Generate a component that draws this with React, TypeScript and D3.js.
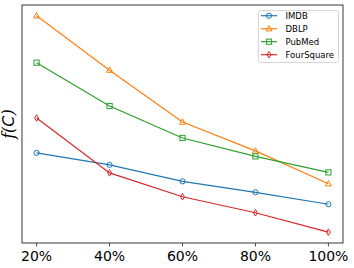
import React from "react";
import * as d3 from "d3";

const categories = ["20%", "40%", "60%", "80%", "100%"];
const seriesNames = ["IMDB", "DBLP", "PubMed", "FourSquare"];
const imdb = [0.90, 0.78, 0.615, 0.505, 0.385];
const dblp = [2.275, 1.73, 1.21, 0.92, 0.59];
const pubmed = [1.805, 1.37, 1.05, 0.865, 0.705];
const foursquare = [1.25, 0.70, 0.46, 0.30, 0.105];
const colors = ["#1f77b4", "#ff7f0e", "#2ca02c", "#d62728"];
const markers = ["circle", "triangle", "square", "diamond"];

const W = 354, H = 268;
const L = 22, R = 343, T = 5, B = 243;

function Marker({ type, x, y, color }: { type: string; x: number; y: number; color: string }) {
  const common = { fill: "none", stroke: color, strokeWidth: 1 };
  if (type === "circle") return <circle cx={x} cy={y} r={2.6} {...common} />;
  if (type === "square") return <rect x={x - 2.6} y={y - 2.6} width={5.2} height={5.2} {...common} />;
  if (type === "triangle") {
    const p = [[x, y - 3.2], [x - 3, y + 2.2], [x + 3, y + 2.2]];
    return <polygon points={p.map((q) => q.join(",")).join(" ")} {...common} />;
  }
  const p = [[x, y - 3.3], [x - 2, y], [x, y + 3.3], [x + 2, y]];
  return <polygon points={p.map((q) => q.join(",")).join(" ")} {...common} />;
}

export default function App() {
  const data = [imdb, dblp, pubmed, foursquare];
  const all = data.flat();
  const ymin = d3.min(all)!, ymax = d3.max(all)!;
  const ypad = (ymax - ymin) * 0.05;
  const y = d3.scaleLinear().domain([ymin - ypad, ymax + ypad]).range([B, T]);
  const x = d3.scaleLinear().domain([-0.2, categories.length - 1 + 0.2]).range([L, R]);
  const line = d3.line<number>().x((_, i) => x(i)).y((d) => y(d));

  const legX = 258.5, legY = 10.5, legW = 80, legH = 52;
  return (
    <svg width={W} height={H} style={{ position: "absolute", left: 0, top: 0 }} fontFamily="DejaVu Sans">
      <rect width={W} height={H} fill="white" />
      {data.map((s, si) => (
        <g key={si}>
          <path d={line(s)!} fill="none" stroke={colors[si]} strokeWidth={1.2} />
          {s.map((v, i) => (
            <Marker key={i} type={markers[si]} x={x(i)} y={y(v)} color={colors[si]} />
          ))}
        </g>
      ))}
      <rect x={L} y={T} width={R - L} height={B - T} fill="none" stroke="#222" strokeWidth={0.9} />
      {categories.map((c, i) => (
        <g key={c}>
          <line x1={x(i)} x2={x(i)} y1={B} y2={B + 3.5} stroke="#222" strokeWidth={0.8} />
          <text x={x(i)} y={260.5} textAnchor="middle" fontSize={14} fill="#000">{c}</text>
        </g>
      ))}
      <text transform={`translate(14,124) rotate(-90)`} textAnchor="middle" fontSize={16} fontStyle="italic" fontFamily="DejaVu Serif">f(<tspan fontFamily="DejaVu Sans" fontStyle="italic">C</tspan>)</text>
      <rect x={legX} y={legY} width={legW} height={legH} fill="white" fillOpacity={0.8} stroke="#ccc" strokeWidth={0.8} rx={2} />
      {seriesNames.map((n, i) => {
        const ly = 15.7 + i * 13;
        return (
          <g key={n}>
            <line x1={261} x2={277} y1={ly} y2={ly} stroke={colors[i]} strokeWidth={1.2} />
            <Marker type={markers[i]} x={269} y={ly} color={colors[i]} />
            <text x={285.5} y={ly + 3} fontSize={8.5} fill="#000">{n}</text>
          </g>
        );
      })}
    </svg>
  );
}
